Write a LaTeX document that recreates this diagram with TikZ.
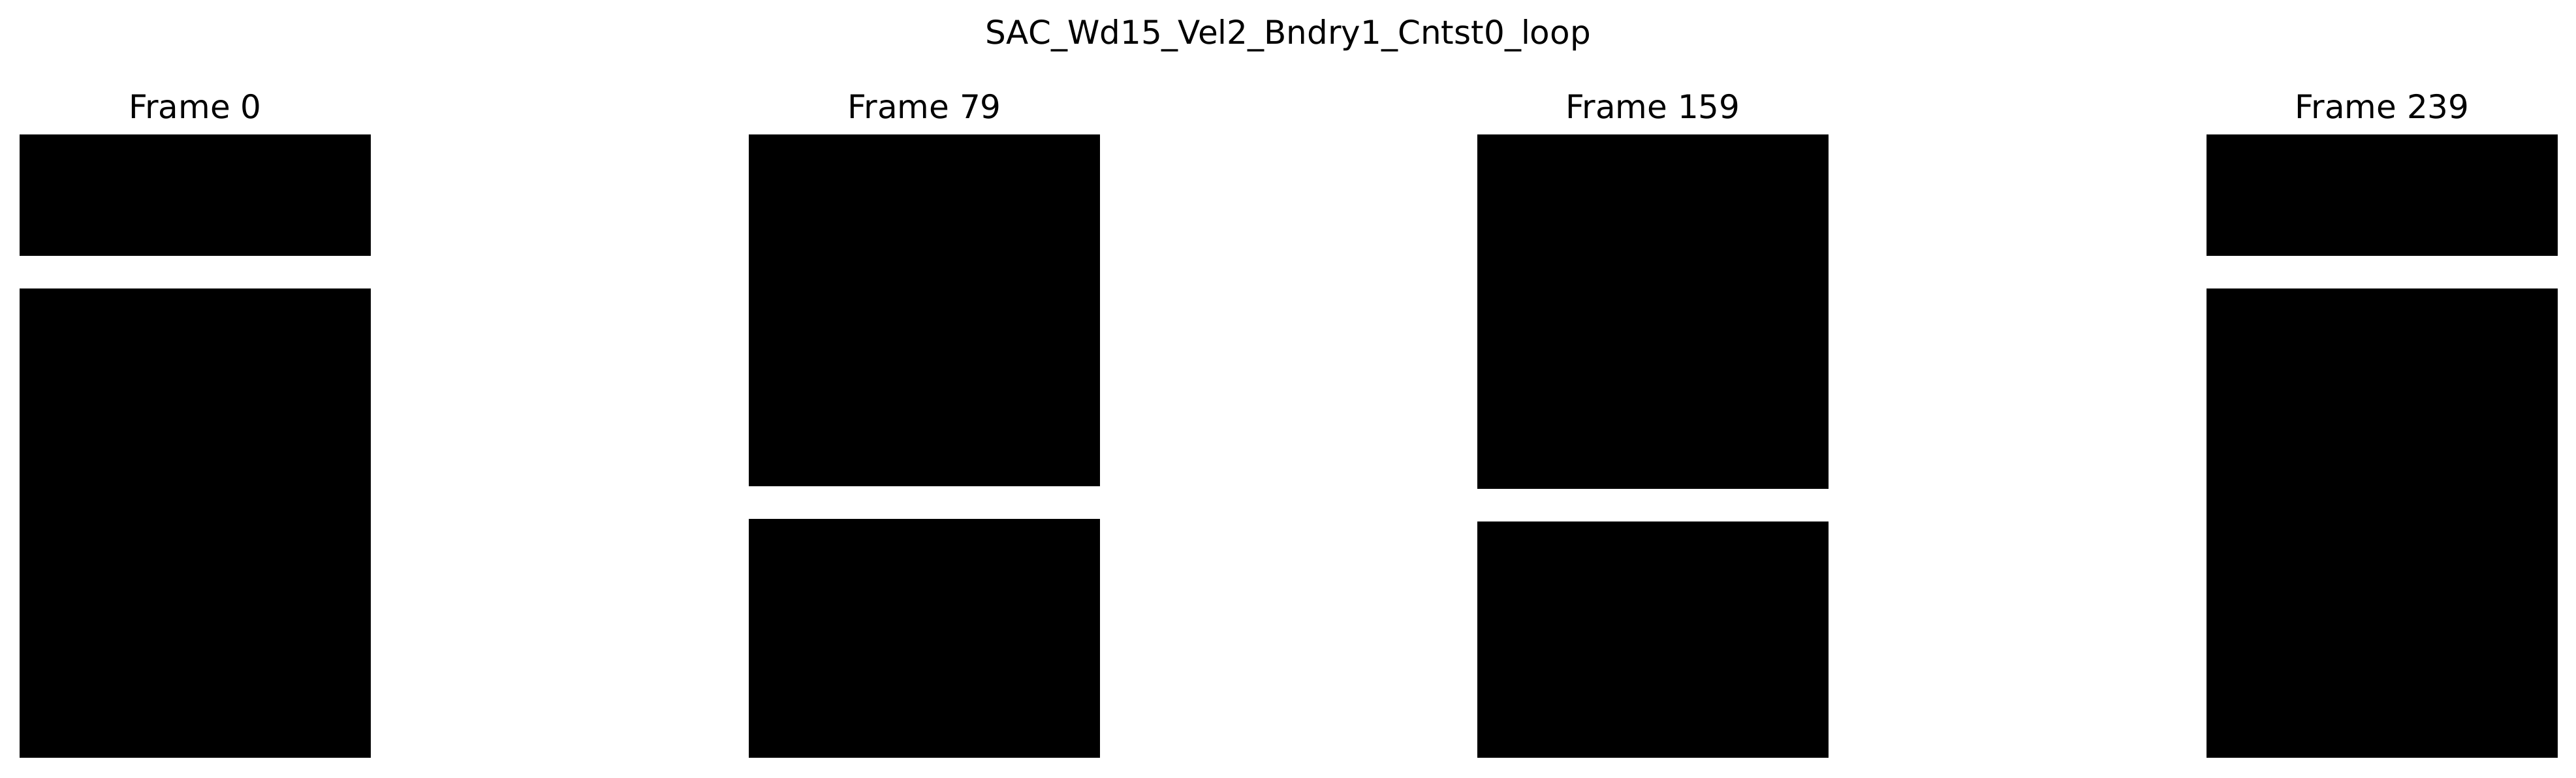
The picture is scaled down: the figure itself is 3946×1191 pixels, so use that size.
\documentclass[tikz,border=0pt]{standalone}
\usepackage{fontspec}
\setmainfont{DejaVu Sans}
\begin{document}
\begin{tikzpicture}[x=0.288pt,y=-0.288pt,
  lbl/.style={anchor=base,inner sep=0pt,font=\fontsize{14.4pt}{17pt}\selectfont},
  blk/.style={fill=black}]
\useasboundingbox[fill=white] (0,0) rectangle (3946,1191);
\node[lbl] (title) at (1973,67) {SAC\_Wd15\_Vel2\_Bndry1\_Cntst0\_loop};
% Frame 0
\node[lbl] (t0) at (299,181) {Frame 0};
\fill[blk] (30,206) rectangle (568,392);
\fill[blk] (30,442) rectangle (568,1161);
% Frame 79
\node[lbl] (t79) at (1416,181) {Frame 79};
\fill[blk] (1147,206) rectangle (1685,745);
\fill[blk] (1147,795) rectangle (1685,1161);
% Frame 159
\node[lbl] (t159) at (2532,181) {Frame 159};
\fill[blk] (2263,206) rectangle (2801,749);
\fill[blk] (2263,799) rectangle (2801,1161);
% Frame 239
\node[lbl] (t239) at (3649,181) {Frame 239};
\fill[blk] (3380,206) rectangle (3918,392);
\fill[blk] (3380,442) rectangle (3918,1161);
\end{tikzpicture}
\end{document}
